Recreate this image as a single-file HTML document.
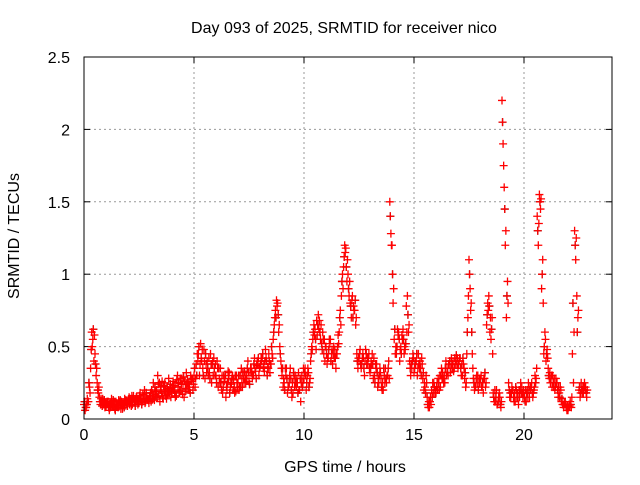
<!DOCTYPE html>
<html><head><meta charset="utf-8"><style>
body{margin:0;background:#fff;}
svg text{font-family:"Liberation Sans",sans-serif;font-size:16px;fill:#000;}
</style></head><body>
<svg id="chart" width="640" height="480" xmlns="http://www.w3.org/2000/svg">
<text x="344" y="33" text-anchor="middle">Day 093 of 2025, SRMTID for receiver nico</text>
<text transform="translate(19,236) rotate(-90)" text-anchor="middle">SRMTID / TECUs</text>
<text x="345" y="472" text-anchor="middle">GPS time / hours</text>
<g id="grid"></g>
<g id="ticks"></g>
<g id="marks"></g>
<rect x="84" y="57" width="528" height="362" fill="none" stroke="#000" stroke-width="1"/>
</svg>
<script>
const xTicks=[0,5,10,15,20];
const yTicks=[0,0.5,1,1.5,2,2.5];
const yTickLabels=["0","0.5","1","1.5","2","2.5"];
const binHours=0.1;
const valuesA=[
.10,.08,.12,.35,.55,.45,.25,.15,.12,.10,
.09,.12,.08,.10,.07,.11,.09,.12,.10,.13,
.11,.14,.10,.12,.15,.11,.13,.16,.12,.14,
.15,.18,.13,.20,.16,.22,.14,.19,.17,.21,
.18,.23,.16,.25,.20,.24,.19,.27,.22,.26,
.30,.38,.45,.52,.35,.28,.40,.32,.25,.42,
.30,.22,.35,.18,.28,.20,.32,.24,.27,.19,
.25,.30,.22,.33,.28,.26,.35,.30,.33,.38,
.36,.42,.33,.40,.45,.38,.55,.75,.80,.50,
.30,.25,.35,.22,.28,.18,.30,.25,.20,.30,
.28,.20,.32,.40,.55,.62,.58,.68,.52,.45,
.50,.42,.55,.38,.48,.45,.60,.85,1.05,1.18,
1.0,.80,.85,.75,.45,.40,.35,.42,.48,.38,
.32,.45,.30,.38,.25,.28,.20,.35,.30,1.50,
1.2,.55,.45,.60,.50,.62,.48,.85,.40,.35,
.32,.40,.45,.35,.28,.22,.15,.08,.20,.25,
.18,.28,.22,.32,.25,.35,.38,.42,.33,.40,
.35,.42,.30,.28,.45,1.10,.80,.28,.22,.30,
.25,.22,.28,.65,.85,.55,.18,.12,.10,.15,
2.20,1.60,.70,.25,.15,.20,.12,.18,.15,.22,
.18,.12,.25,.20,.15,.30,1.40,1.55,.90,.45,
.40,.35,.25,.30,.20,.25,.18,.12,.08,.10,
.06,.12,.45,1.30,.85,.20,.25,.18,.22];
const valuesB=[
.06,.14,.22,.60,.40,.30,.18,.10,.14,.08,
.12,.06,.14,.09,.12,.08,.13,.07,.14,.11,
.15,.09,.16,.13,.10,.18,.12,.20,.15,.11,
.12,.25,.17,.30,.12,.26,.20,.14,.28,.15,
.26,.15,.30,.20,.28,.15,.32,.22,.30,.20,
.22,.45,.30,.40,.48,.38,.30,.45,.40,.30,
.40,.28,.20,.30,.15,.33,.22,.30,.18,.25,
.20,.35,.28,.25,.40,.32,.28,.42,.37,.30,
.42,.35,.48,.36,.32,.45,.65,.82,.60,.40,
.22,.35,.18,.30,.15,.28,.22,.32,.12,.25,
.35,.30,.25,.50,.65,.48,.72,.55,.60,.40,
.38,.55,.45,.50,.35,.58,.75,1.00,1.20,.95,
.85,.70,.78,.65,.35,.48,.42,.30,.38,.45,
.40,.28,.38,.22,.35,.20,.30,.25,.40,1.28,
.80,.45,.62,.40,.58,.45,.78,.60,.30,.45,
.40,.30,.35,.42,.20,.30,.08,.15,.25,.18,
.25,.20,.35,.25,.40,.30,.32,.35,.42,.38,
.40,.30,.38,.22,.70,.90,.45,.20,.30,.25,
.30,.18,.22,.80,.60,.70,.12,.20,.15,.08,
1.90,1.20,.95,.15,.22,.12,.20,.10,.25,.15,
.12,.20,.15,.25,.20,.28,1.20,1.45,1.10,.60,
.48,.28,.30,.22,.28,.15,.22,.10,.12,.06,
.10,.08,.25,1.10,.70,.15,.18,.25,.15];
const valuesC=[
.12,.10,.25,.48,.62,.38,.20,.12,.09,.13,
.10,.08,.11,.13,.06,.09,.12,.10,.08,.12,
.13,.12,.14,.09,.13,.16,.10,.14,.18,.13,
.18,.14,.22,.15,.25,.18,.23,.16,.20,.24,
.22,.19,.27,.18,.24,.29,.21,.25,.18,.28,
.35,.30,.50,.42,.30,.45,.35,.28,.38,.35,
.25,.35,.25,.22,.30,.25,.18,.28,.22,.30,
.30,.22,.32,.28,.35,.24,.32,.38,.28,.42,
.38,.45,.40,.30,.40,.50,.60,.70,.72,.45,
.35,.20,.28,.25,.20,.32,.25,.18,.28,.22,
.32,.25,.22,.45,.60,.55,.65,.60,.48,.55,
.45,.48,.40,.45,.42,.50,.70,.95,1.12,1.05,
.90,.78,.70,.82,.40,.45,.38,.35,.45,.42,
.35,.38,.25,.32,.30,.22,.35,.28,.35,1.40,
1.0,.62,.50,.55,.45,.55,.52,.72,.35,.40,
.35,.45,.38,.30,.32,.18,.10,.12,.15,.22,
.22,.25,.30,.28,.35,.32,.40,.38,.35,.44,
.38,.35,.42,.32,.60,1.00,.60,.25,.28,.20,
.28,.25,.32,.72,.78,.62,.15,.15,.12,.10,
2.05,1.45,.85,.20,.18,.15,.22,.15,.20,.18,
.15,.18,.20,.22,.18,.25,1.30,1.50,1.00,.50,
.45,.30,.28,.25,.22,.20,.15,.14,.10,.08,
.08,.10,.80,1.20,.60,.22,.20,.22,.18];
const valuesD=[
.08,.12,.18,.50,.58,.35,.22,.14,.10,.11,
.11,.10,.09,.12,.10,.13,.07,.11,.12,.09,
.10,.16,.12,.15,.12,.14,.17,.11,.14,.16,
.20,.16,.19,.24,.20,.15,.25,.22,.18,.19,
.20,.25,.22,.28,.17,.26,.24,.20,.27,.24,
.28,.40,.38,.48,.40,.32,.42,.38,.30,.38,
.35,.25,.30,.26,.22,.28,.25,.20,.30,.22,
.22,.28,.25,.30,.32,.35,.30,.35,.40,.35,
.40,.38,.42,.35,.38,.42,.70,.78,.65,.35,
.28,.30,.22,.35,.25,.22,.28,.20,.25,.35,
.30,.35,.28,.48,.58,.68,.62,.65,.55,.50,
.42,.52,.48,.42,.45,.52,.65,.90,1.15,1.10,
.95,.82,.75,.70,.42,.38,.45,.40,.42,.35,
.38,.42,.35,.28,.32,.25,.25,.30,.28,1.20,
.90,.50,.58,.48,.55,.50,.60,.65,.38,.42,
.38,.35,.40,.38,.25,.25,.12,.10,.18,.20,
.20,.30,.28,.30,.30,.38,.35,.40,.38,.42,
.42,.38,.35,.25,.85,.75,.35,.22,.25,.28,
.22,.28,.25,.75,.70,.45,.20,.10,.18,.12,
1.75,1.30,.80,.18,.20,.18,.15,.20,.18,.20,
.20,.15,.22,.18,.22,.35,1.35,1.52,.80,.55,
.42,.32,.22,.28,.25,.22,.20,.10,.12,.09,
.09,.15,.60,1.25,.75,.18,.22,.20,.20];
const X0=84,X1=612,Y0=419,Y1=57,XMAX=24,YMAX=2.5;
function sx(h){return X0+(h/XMAX)*(X1-X0);}
function sy(v){return Y0-(v/YMAX)*(Y0-Y1);}
const NS="http://www.w3.org/2000/svg";
const grid=document.getElementById('grid'),ticks=document.getElementById('ticks'),marks=document.getElementById('marks');
function mk(tag,attrs,parent){const e=document.createElementNS(NS,tag);for(const k in attrs)e.setAttribute(k,attrs[k]);parent.appendChild(e);return e;}
xTicks.forEach(t=>{
 const x=sx(t);
 if(t>0){const g=mk('line',{x1:x,x2:x,y1:Y1,y2:Y0,stroke:'#999','stroke-dasharray':'2,3'},grid);
 
 }
 mk('line',{x1:x,x2:x,y1:Y0,y2:Y0-6,stroke:'#000'},ticks);
 mk('line',{x1:x,x2:x,y1:Y1,y2:Y1+6,stroke:'#000'},ticks);
 const l=mk('text',{x:x,y:Y0+21,'text-anchor':'middle'},ticks);l.textContent=t;
 
 
});
yTicks.forEach((t,i)=>{
 const y=sy(t);
 if(t>0&&t<YMAX){const g=mk('line',{x1:X0,x2:X1,y1:y,y2:y,stroke:'#999','stroke-dasharray':'2,3'},grid);
 
 }
 mk('line',{x1:X0,x2:X0+6,y1:y,y2:y,stroke:'#000'},ticks);
 mk('line',{x1:X1,x2:X1-6,y1:y,y2:y,stroke:'#000'},ticks);
 const l=mk('text',{x:X0-14,y:y+6,'text-anchor':'end'},ticks);l.textContent=yTickLabels[i];
 
 
});
function plus(h,v,color){
 const x=sx(h),y=sy(v);
 const p=mk('path',{d:`M${x-4},${y}H${x+4}M${x},${y-4}V${y+4}`,stroke:color,'stroke-width':1.3,fill:'none'},marks);
 
 
}
valuesC.forEach((v,i)=>plus(i*binHours+0.025,v,'#333333'));
valuesA.forEach((v,i)=>plus(i*binHours,v,'#ff0000'));
valuesB.forEach((v,i)=>plus(i*binHours+0.05,v,'#ff0000'));
valuesC.forEach((v,i)=>plus(i*binHours+0.025,v,'#ff0000'));
valuesD.forEach((v,i)=>plus(i*binHours+0.075,v,'#ff0000'));
</script>
</body></html>
